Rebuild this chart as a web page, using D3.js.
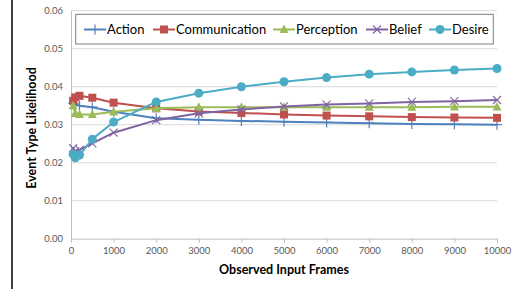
<!DOCTYPE html>
<html>
<head>
<meta charset="utf-8">
<script src="https://cdn.jsdelivr.net/npm/d3@7"></script>
<style>
  body { margin: 0; background: #fff; }
  svg { display: block; font-family: Lato, "Open Sans", sans-serif; }
</style>
</head>
<body>
<div id="chart-area"></div>
<script>
const width = 520, height = 289;
const margin = ({top: 10.7, right: 23, bottom: 50.3, left: 71});

// observed input frames
const frames = [50, 100, 200, 500, 1000, 2000, 3000, 4000, 5000, 6000, 7000, 8000, 9000, 10000];

const action        = [0.0357, 0.0354, 0.0350, 0.0346, 0.0334, 0.0317, 0.0313, 0.0310, 0.0308, 0.0306, 0.0304, 0.0302, 0.0301, 0.0300];
const communication = [0.0363, 0.0372, 0.0376, 0.0371, 0.0358, 0.0343, 0.0335, 0.0331, 0.0327, 0.0324, 0.0322, 0.0320, 0.0319, 0.0318];
const perception    = [0.0350, 0.0330, 0.0327, 0.0327, 0.0334, 0.0343, 0.0346, 0.0346, 0.0346, 0.0346, 0.0346, 0.0346, 0.0347, 0.0347];
const belief        = [0.0238, 0.0230, 0.0234, 0.0251, 0.0279, 0.0312, 0.0330, 0.0340, 0.0348, 0.0353, 0.0356, 0.0360, 0.0362, 0.0365];
const desire        = [0.0222, 0.0213, 0.0220, 0.0262, 0.0307, 0.0360, 0.0383, 0.0400, 0.0413, 0.0424, 0.0433, 0.0439, 0.0444, 0.0448];

const seriesNames = ["Action", "Communication", "Perception", "Belief", "Desire"];
const seriesColors = ["#4F81BD", "#C0504D", "#9BBB59", "#8064A2", "#4BACC6"];
const seriesMarkers = ["plus", "square", "triangle", "cross", "circle"];

const xTicks = [0, 1000, 2000, 3000, 4000, 5000, 6000, 7000, 8000, 9000, 10000];
const yTicks = [0, 0.01, 0.02, 0.03, 0.04, 0.05, 0.06];

const series = [action, communication, perception, belief, desire].map((values, i) => ({
    name: seriesNames[i],
    color: seriesColors[i],
    marker: seriesMarkers[i],
    values: values.map((v, j) => ({x: frames[j], y: v}))
}));

const x = d3.scaleLinear()
    .domain([0, 10000])
    .range([margin.left, width - margin.right]);

const y = d3.scaleLinear()
    .domain([0, 0.06])
    .range([height - margin.bottom, margin.top]);

const svg = d3.select("#chart-area").append("svg")
    .attr("width", width)
    .attr("height", height);

// page border line on the left
svg.append("line")
    .attr("x1", 12).attr("x2", 12)
    .attr("y1", 0).attr("y2", height)
    .attr("stroke", "#000").attr("stroke-width", 1.5);

// gridlines
svg.append("g")
    .selectAll("line")
    .data(yTicks.filter(d => d > 0))
    .enter().append("line")
        .attr("x1", x(0)).attr("x2", x(10000))
        .attr("y1", d => y(d)).attr("y2", d => y(d))
        .attr("stroke", "#d9d9d9").attr("stroke-width", 1);

// y axis
svg.append("g")
    .attr("transform", `translate(${margin.left},0)`)
    .call(d3.axisLeft(y).tickValues(yTicks).tickFormat(d3.format(".2f")).tickSize(0).tickPadding(8))
    .call(g => g.select(".domain").attr("stroke", "#bfbfbf"))
    .call(g => g.selectAll("text").attr("fill", "#595959").attr("font-size", 9.5).attr("font-family", "Lato, sans-serif"));

// x axis
svg.append("g")
    .attr("transform", `translate(0,${height - margin.bottom})`)
    .call(d3.axisBottom(x).tickValues(xTicks).tickFormat(d3.format("d")).tickSize(4).tickSizeOuter(0).tickPadding(5))
    .call(g => g.select(".domain").attr("stroke", "#bfbfbf"))
    .call(g => g.selectAll(".tick line").attr("stroke", "#bfbfbf"))
    .call(g => g.selectAll("text").attr("fill", "#595959").attr("font-size", 9.5).attr("font-family", "Lato, sans-serif"));

// axis titles
svg.append("text")
    .attr("x", (x(0) + x(10000)) / 2)
    .attr("y", 274)
    .attr("text-anchor", "middle")
    .attr("font-size", 12.5)
    .attr("font-weight", "bold")
    .attr("fill", "#000")
    .text("Observed Input Frames");

svg.append("text")
    .attr("transform", `translate(36,128) rotate(-90)`)
    .attr("text-anchor", "middle")
    .attr("font-size", 12.5)
    .attr("font-weight", "bold")
    .attr("fill", "#000")
    .text("Event Type Likelihood");

// markers
function drawMarker(g, type, color, size) {
    const s = size;
    if (type === "plus") {
        g.append("path").attr("d", `M${-s},0H${s}M0,${-s}V${s}`)
            .attr("stroke", color).attr("stroke-width", 1.2).attr("fill", "none");
    } else if (type === "square") {
        g.append("rect").attr("x", -s).attr("y", -s).attr("width", 2 * s).attr("height", 2 * s)
            .attr("fill", color);
    } else if (type === "triangle") {
        g.append("path").attr("d", `M0,${-s * 1.1}L${s},${s * 0.8}L${-s},${s * 0.8}Z`)
            .attr("fill", color);
    } else if (type === "cross") {
        g.append("path").attr("d", `M${-s},${-s}L${s},${s}M${-s},${s}L${s},${-s}`)
            .attr("stroke", color).attr("stroke-width", 1.1).attr("fill", "none");
    } else if (type === "circle") {
        g.append("circle").attr("r", s).attr("fill", color);
    }
}

const markerSize = {plus: 5, square: 4, triangle: 4.5, cross: 4, circle: 4.5};

const line = d3.line()
    .x(d => x(d.x))
    .y(d => y(d.y));

const seriesG = svg.append("g")
    .selectAll("g")
    .data(series)
    .enter().append("g");

seriesG.append("path")
    .attr("d", d => line(d.values))
    .attr("fill", "none")
    .attr("stroke", d => d.color)
    .attr("stroke-width", 2)
    .attr("stroke-linejoin", "round");

seriesG.each(function(s) {
    d3.select(this).selectAll("g.pt")
        .data(s.values)
        .enter().append("g")
            .attr("class", "pt")
            .attr("transform", d => `translate(${x(d.x)},${y(d.y)})`)
            .each(function() { drawMarker(d3.select(this), s.marker, s.color, markerSize[s.marker]); });
});

// legend
const legend = svg.append("g");
legend.append("rect")
    .attr("x", 75.7).attr("y", 14.3)
    .attr("width", 417.6).attr("height", 29.7)
    .attr("fill", "#fff")
    .attr("stroke", "#7f7f7f").attr("stroke-width", 1);

const legendX = [84, 153, 273, 366, 429];
const legendItems = legend.selectAll("g")
    .data(series)
    .enter().append("g")
        .attr("transform", (d, i) => `translate(${legendX[i]},29.5)`);

legendItems.append("line")
    .attr("x1", 0).attr("x2", 22)
    .attr("stroke", d => d.color).attr("stroke-width", 2);

legendItems.each(function(s) {
    const g = d3.select(this).append("g").attr("transform", "translate(11,0)");
    drawMarker(g, s.marker, s.color, markerSize[s.marker]);
});

legendItems.append("text")
    .attr("x", 23)
    .attr("y", 4.5)
    .attr("font-size", 13)
    .attr("fill", "#000")
    .text(d => d.name);
</script>
</body>
</html>
